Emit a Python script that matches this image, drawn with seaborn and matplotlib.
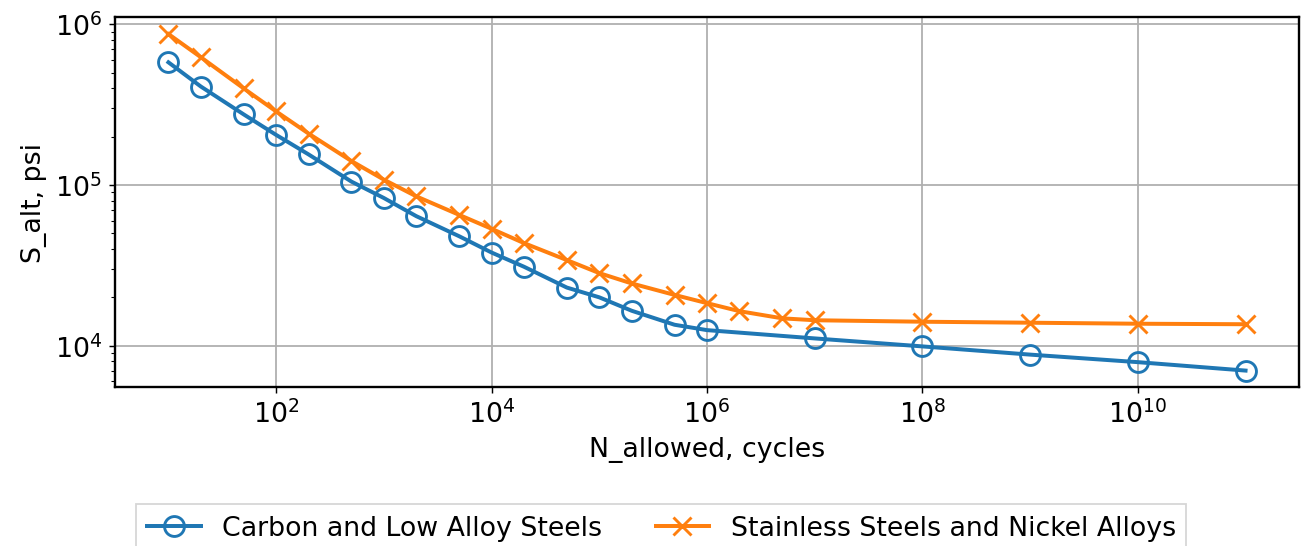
import numpy as np
import pandas as pd
import seaborn as sns
import matplotlib
matplotlib.use("Agg")
import matplotlib.pyplot as plt

# fatigue design curves, N in cycles, S in psi
n_carbon = [1e1, 2e1, 5e1, 1e2, 2e2, 5e2, 1e3, 2e3, 5e3, 1e4, 2e4, 5e4, 1e5, 2e5, 5e5,
            1e6, 1e7, 1e8, 1e9, 1e10, 1e11]
s_carbon = [580e3, 410e3, 275e3, 205e3, 155e3, 105e3, 83e3, 64e3, 48e3, 38e3, 31e3, 23e3,
            20e3, 16.5e3, 13.5e3, 12.5e3, 11.1e3, 9.9e3, 8.8e3, 7.9e3, 7.0e3]

n_stainless = [1e1, 2e1, 5e1, 1e2, 2e2, 5e2, 1e3, 2e3, 5e3, 1e4, 2e4, 5e4, 1e5, 2e5, 5e5,
               1e6, 2e6, 5e6, 1e7, 1e8, 1e9, 1e10, 1e11]
s_stainless = [870e3, 624e3, 399e3, 287e3, 209e3, 141e3, 108e3, 85e3, 65.2e3, 53.4e3, 43.5e3,
               34.1e3, 28.3e3, 24.4e3, 20.7e3, 18.4e3, 16.4e3, 14.8e3, 14.4e3, 14.1e3,
               13.9e3, 13.7e3, 13.6e3]

labels = ["Carbon and Low Alloy Steels", "Stainless Steels and Nickel Alloys"]

df_c = pd.DataFrame({"N": n_carbon, "S": s_carbon})
df_s = pd.DataFrame({"N": n_stainless, "S": s_stainless})

plt.rcParams["font.size"] = 14.8
fig, ax = plt.subplots(figsize=(10, 4.2), dpi=130.2)

sns.lineplot(data=df_c, x="N", y="S", ax=ax, color="#1f77b4", linewidth=2.2,
             marker="o", markersize=11, markerfacecolor="none", markeredgecolor="#1f77b4",
             markeredgewidth=1.6, label=labels[0])
sns.lineplot(data=df_s, x="N", y="S", ax=ax, color="#ff7f0e", linewidth=2.2,
             marker="x", markersize=10, markeredgecolor="#ff7f0e",
             markeredgewidth=1.6, label=labels[1])

ax.set_xscale("log")
ax.set_yscale("log")
ax.grid(True, which="major", color="#b0b0b0", linewidth=1)
ax.set_xlabel("N_allowed, cycles")
ax.set_ylabel("S_alt, psi")
for s in ax.spines.values():
    s.set_linewidth(1.3)

ax.get_legend().remove()
handles, labs = ax.get_legend_handles_labels()
fig.legend(handles, labs, loc="lower center", ncol=2, bbox_to_anchor=(0.508, -0.035),
           fancybox=False, edgecolor="#cccccc")

fig.subplots_adjust(left=0.088, right=0.998, top=0.967, bottom=0.29)
fig.savefig("out.png", dpi=130.2)
